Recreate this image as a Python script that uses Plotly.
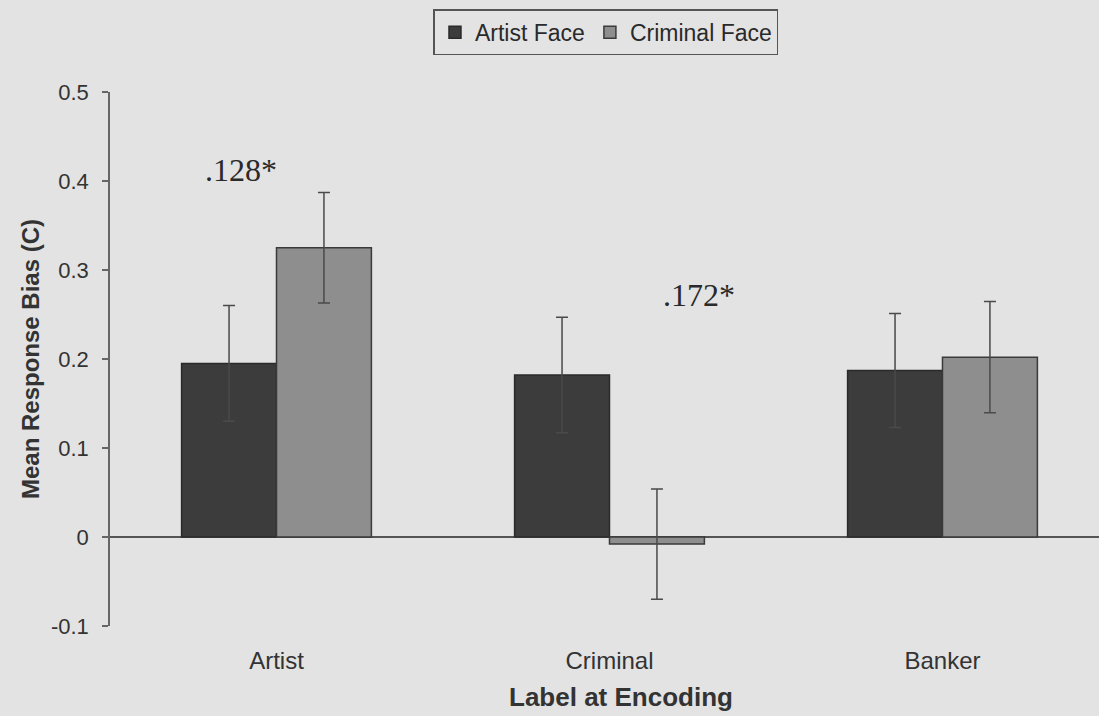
import plotly.graph_objects as go

categories = ["Artist", "Criminal", "Banker"]
artist_face = [0.195, 0.182, 0.187]
artist_face_err = [0.065, 0.065, 0.064]
criminal_face = [0.325, -0.008, 0.202]
criminal_face_err = [0.062, 0.062, 0.0625]
annot_text = [".128*", ".172*"]
annot_x = [-0.107, 1.27]
annot_y = [0.412, 0.272]

BG = "#e3e3e3"
fig = go.Figure()
fig.add_trace(go.Bar(
    name="Artist Face", x=categories, y=artist_face,
    marker=dict(color="#3c3c3c", line=dict(color="#2a2a2a", width=1.5)),
    error_y=dict(type="data", array=artist_face_err, color="#4a4a4a", thickness=1.5, width=6),
))
fig.add_trace(go.Bar(
    name="Criminal Face", x=categories, y=criminal_face,
    marker=dict(color="#8e8e8e", line=dict(color="#3a3a3a", width=1.5)),
    error_y=dict(type="data", array=criminal_face_err, color="#4a4a4a", thickness=1.5, width=6),
))
for t, xx, yy in zip(annot_text, annot_x, annot_y):
    fig.add_annotation(x=xx, y=yy, text=t, showarrow=False,
                       font=dict(family="Liberation Serif", size=32, color="#2a2a2a"))

# x-axis title as a paper annotation
fig.add_annotation(xref="paper", yref="paper", x=0.5167, y=-0.133, yanchor="middle",
                   xanchor="center", text="<b>Label at Encoding</b>",
                   showarrow=False, font=dict(family="Liberation Sans", size=26, color="#333"))

fig.update_layout(
    width=1099, height=716,
    margin=dict(l=110, r=0, t=92, b=90),
    paper_bgcolor=BG, plot_bgcolor=BG,
    barmode="group", bargap=0.43, bargroupgap=0,
    showlegend=True,
    legend=dict(orientation="h", x=0.5015, y=1.155, xanchor="center", yanchor="top",
                bordercolor="#555", borderwidth=1.5, bgcolor="rgba(0,0,0,0)",
                font=dict(family="Liberation Sans", size=23, color="#2a2a2a"),
                itemwidth=30, tracegroupgap=0),
    font=dict(family="Liberation Sans", color="#333"),
)
fig.update_xaxes(range=[-0.5, 2.47], showline=False, showgrid=False, zeroline=False,
                 ticks="outside", ticklen=13, tickcolor="rgba(0,0,0,0)",
                 tickfont=dict(family="Liberation Sans", size=24, color="#333"))
fig.update_yaxes(range=[-0.1, 0.5], tickvals=[-0.1, 0, 0.1, 0.2, 0.3, 0.4, 0.5],
                 ticktext=["-0.1", "0", "0.1", "0.2", "0.3", "0.4", "0.5"],
                 showline=True, linecolor="#666", linewidth=1.5,
                 ticks="outside", ticklen=6, tickcolor="#666", tickwidth=1.5,
                 ticklabelstandoff=9,
                 showgrid=False, zeroline=True, zerolinecolor="#555", zerolinewidth=1.5,
                 tickfont=dict(family="Liberation Sans", size=22, color="#333"),
                 title=dict(text="<b>Mean Response Bias (C)</b>", standoff=5,
                            font=dict(family="Liberation Sans", size=24, color="#333")))
fig.write_html("out.html", config={"displayModeBar": False},
               post_script="document.body.style.margin='0px';document.body.style.background='" + BG + "';")
